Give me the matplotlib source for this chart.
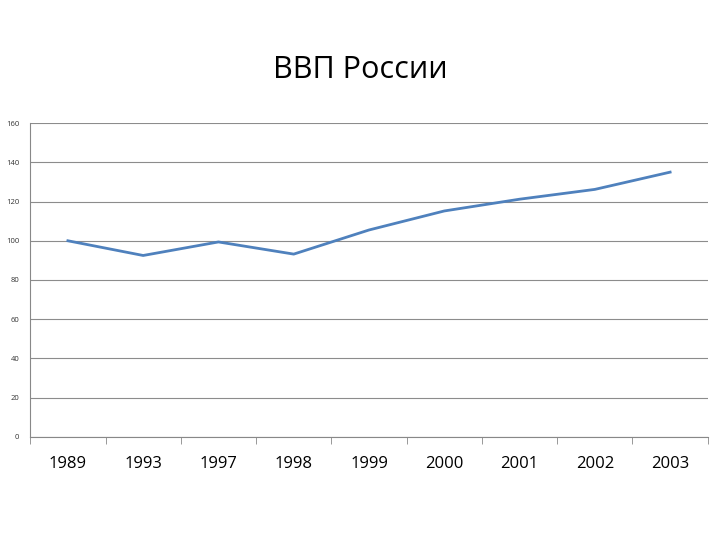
import matplotlib.pyplot as plt

years = ["1989", "1993", "1997", "1998", "1999", "2000", "2001", "2002", "2003"]
gdp = [100, 92.5, 99.4, 93.2, 105.5, 115.2, 121.2, 126.2, 135]

plt.rcParams['font.family'] = ['Open Sans', 'DejaVu Sans']

fig = plt.figure(figsize=(7.2, 5.4), dpi=100)
ax = fig.add_axes([0.042, 0.191, 0.941, 0.581])

x = list(range(len(years)))
ax.plot(x, gdp, color="#4f81bd", linewidth=2.0)

ax.set_xlim(-0.5, len(years) - 0.5)
ax.set_ylim(0, 160)
ax.set_yticks(range(0, 161, 20))
ax.tick_params(axis="y", labelsize=5.5, length=0, pad=8, colors="#333333")
ax.set_xticks(x)
ax.set_xticklabels(years, fontsize=12)
ax.tick_params(axis="x", length=0, pad=14)
# bin edge ticks
ax.set_xticks([i - 0.5 for i in range(len(years) + 1)], minor=True)
ax.tick_params(axis="x", which="minor", length=5, color="#888888")

ax.grid(axis="y", color="#8c8c8c", linewidth=0.8)
ax.set_axisbelow(True)
for s in ["top", "right"]:
    ax.spines[s].set_visible(False)
ax.spines["left"].set_color("#888888")
ax.spines["bottom"].set_color("#888888")

fig.text(0.5, 0.87, "ВВП России", ha="center", va="center", fontsize=22)

fig.savefig("out.png", dpi=100)
